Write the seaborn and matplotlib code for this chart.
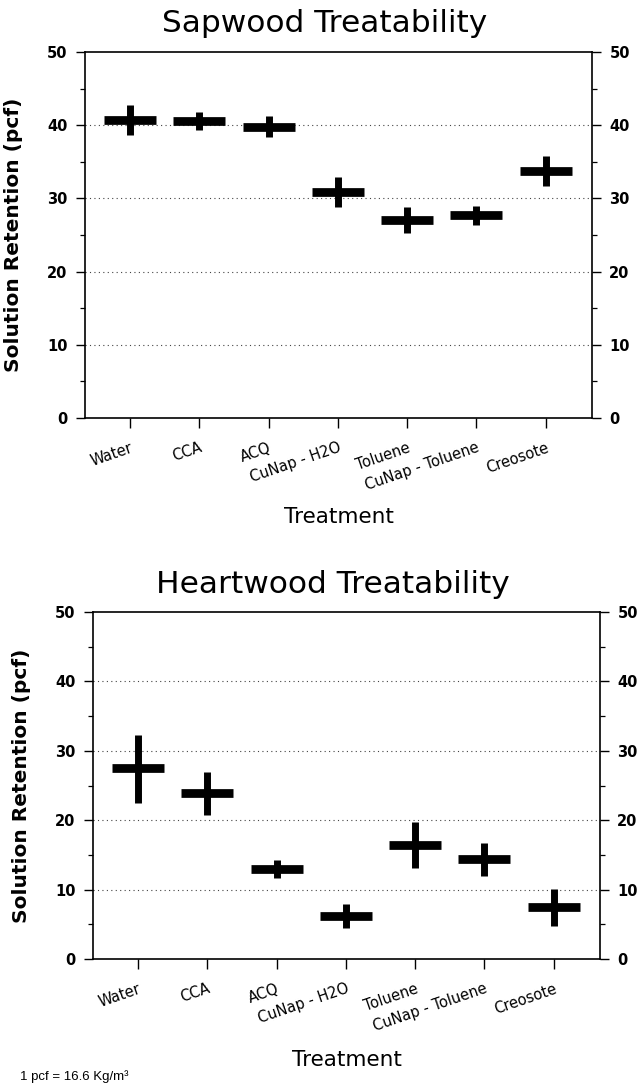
"""
Sapwood / heartwood treatability chart: mean solution retention with ranges
"""

import numpy as np
import pandas as pd
import seaborn as sns
import matplotlib.pyplot as plt
from matplotlib.ticker import MultipleLocator

# Data
treatments = ["Water", "CCA", "ACQ", "CuNap - H2O", "Toluene", "CuNap - Toluene", "Creosote"]

sap_mean = [40.7, 40.6, 39.8, 30.9, 27.0, 27.8, 33.8]
sap_low = [38.7, 39.3, 38.4, 28.8, 25.3, 26.4, 31.7]
sap_high = [42.8, 41.8, 41.3, 32.9, 28.8, 29.0, 35.8]

heart_mean = [27.5, 23.9, 13.0, 6.2, 16.4, 14.4, 7.5]
heart_low = [22.5, 20.7, 11.7, 4.5, 13.1, 12.0, 4.8]
heart_high = [32.3, 26.9, 14.3, 7.9, 19.7, 16.7, 10.1]

y_ticks = [0, 10, 20, 30, 40, 50]

sns.set_theme(style="white")
plt.rcParams["font.family"] = ["DejaVu Sans"]
for key in ["text.color", "axes.labelcolor", "xtick.color", "ytick.color", "axes.edgecolor"]:
    plt.rcParams[key] = "black"

W, H = 644, 1083


def long_frame(mean, low, high):
    """Three rows per treatment: low, mean, high (median = mean, range = low..high)"""
    rows = []
    for t, m, lo, hi in zip(treatments, mean, low, high):
        for v in (lo, m, hi):
            rows.append({"treatment": t, "value": v})
    return pd.DataFrame(rows)


def draw_panel(fig, box, mean, low, high, title, title_base, xlabel_base):
    left, top, right, bottom = box
    ax = fig.add_axes([left / W, 1 - bottom / H, (right - left) / W, (bottom - top) / H])
    df = long_frame(mean, low, high)
    sns.pointplot(
        data=df, x="treatment", y="value", order=treatments,
        estimator="median", errorbar=("pi", 100),
        linestyle="none", marker="_", markersize=37, markeredgewidth=6.3,
        color="black", err_kws={"linewidth": 5.0, "solid_capstyle": "butt"}, ax=ax,
    )

    ax.set_xlim(-0.65, 6.67)
    ax.set_ylim(0, 50)
    ax.set_yticks(y_ticks)
    ax.yaxis.set_minor_locator(MultipleLocator(5))
    ax.set_yticklabels([str(v) for v in y_ticks], fontsize=10.5, fontweight="bold")

    # dotted gridlines on the major ticks
    for v in y_ticks[1:-1]:
        ax.axhline(v, color="#444444", linestyle=(0, (1, 3)), linewidth=0.8, zorder=0)

    for s in ax.spines.values():
        s.set_visible(True)
        s.set_color("black")
        s.set_linewidth(1.2)

    ax.tick_params(axis="y", which="major", direction="out", length=6.5, width=1,
                   left=True, right=True, labelleft=True, labelright=True, pad=6)
    ax.tick_params(axis="y", which="minor", direction="out", length=3.5, width=0.9,
                   left=True, right=True)
    ax.tick_params(axis="x", which="major", direction="out", length=7, width=1,
                   bottom=True, pad=9)

    ax.set_xticks(range(len(treatments)))
    ax.set_xticklabels(treatments, rotation=19, ha="right", rotation_mode="anchor", fontsize=10.5)

    ax.set_xlabel("")
    ax.set_ylabel("Solution Retention (pcf)", fontsize=14.5, fontweight="bold")
    ax.yaxis.set_label_coords(-0.122, 0.5)

    x_center = (left + right) / 2 / W
    fig.text(x_center - 14 / W, 1 - title_base / H, title, ha="center", va="baseline", fontsize=22.5)
    fig.text(x_center, 1 - xlabel_base / H, "Treatment", ha="center", va="baseline", fontsize=15.5)
    return ax


fig = plt.figure(figsize=(W / 100, H / 100), dpi=100)

draw_panel(fig, (85, 52, 592, 418), sap_mean, sap_low, sap_high,
           "Sapwood Treatability", 32, 523)
draw_panel(fig, (93, 612, 600, 959), heart_mean, heart_low, heart_high,
           "Heartwood Treatability", 593, 1066)

fig.text(20 / W, 1 - 1080 / H, "1 pcf = 16.6 Kg/m³", ha="left", va="baseline",
         fontsize=9.5, family=["Liberation Sans", "DejaVu Sans"])

fig.savefig("out.png", dpi=100)
